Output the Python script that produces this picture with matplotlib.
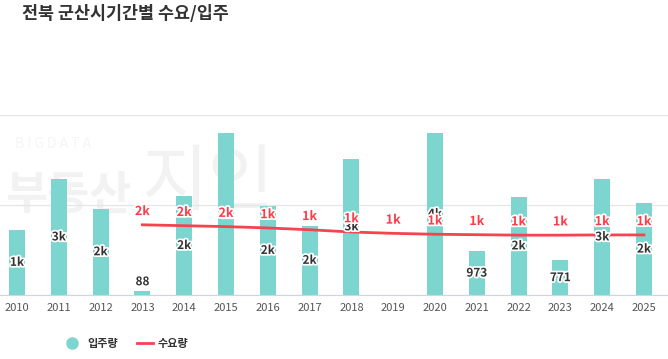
import numpy as np
import matplotlib.pyplot as plt
import matplotlib.patheffects as pe

plt.rcParams['font.family'] = ['Noto Sans CJK KR', 'DejaVu Sans']

years = ['2010', '2011', '2012', '2013', '2014', '2015', '2016', '2017',
         '2018', '2019', '2020', '2021', '2022', '2023', '2024', '2025']
supply = [1450, 2580, 1920, 88, 2200, 3600, 1980, 1540,
          3030, 0, 3600, 973, 2180, 771, 2580, 2040]
demand_years = years[3:]
demand = [1560, 1540, 1520, 1490, 1450, 1400, 1370, 1350,
          1340, 1330, 1330, 1335, 1335]


def short(v):
    if v >= 1000:
        return '%dk' % round(v / 1000.0)
    return str(v)


bar_color = '#7dd5cf'
line_color = '#f5434f'

fig = plt.figure(figsize=(6.68, 3.59), dpi=100)
ax = fig.add_axes([0, 64 / 359, 1, 180 / 359])

x = np.arange(len(years))
xd = x[3:]

# watermark, kept under the bars
ft = fig.transFigure
ax.text(0.022, 0.60, 'B I G D A T A', fontsize=10, color='#f5f5f5', ha='left', va='center',
        transform=ft, zorder=0.5, clip_on=False)
ax.text(0.008, 0.455, '부동산', fontsize=33, fontweight='bold', color='#f2f2f2', ha='left',
        va='center', transform=ft, zorder=0.5, clip_on=False)
ax.text(0.212, 0.49, '지인', fontsize=52, color='#f2f2f2', ha='left', va='center',
        transform=ft, zorder=0.5, clip_on=False)

ax.bar(x, supply, width=0.38, color=bar_color, zorder=2)
ax.plot(xd, demand, color=line_color, lw=2, zorder=3)

stroke = [pe.withStroke(linewidth=2.5, foreground='white')]
for i, v in enumerate(supply):
    if v == 0:
        continue
    if v < 300:
        ax.annotate(short(v), (x[i], v), xytext=(0, 2), textcoords='offset points',
                    ha='center', va='bottom', fontsize=8.5, fontweight='bold',
                    color='#333333', path_effects=stroke, zorder=4)
    else:
        ax.text(x[i], v / 2, short(v), ha='center', va='center', fontsize=8.5,
                fontweight='bold', color='#333333', path_effects=stroke, zorder=4)

for xi, v in zip(xd, demand):
    ax.annotate(short(v), (xi, v), xytext=(0, 9.5), textcoords='offset points',
                ha='center', va='center', fontsize=9, fontweight='bold',
                color='#ff3b4a', path_effects=stroke, zorder=5)

ax.set_xlim(-0.4067, 15.574)
ax.set_ylim(0, 4000)
ax.set_yticks([0, 2000, 4000])
ax.set_yticklabels([])
ax.grid(axis='y', color='#e6e6e6', lw=1, zorder=0)
ax.set_axisbelow(True)
ax.tick_params(axis='y', length=0)
ax.set_xticks(x)
ax.set_xticklabels(years, fontsize=8, color='#555555')
ax.tick_params(axis='x', length=0, pad=6)
for s in ['top', 'right', 'left']:
    ax.spines[s].set_visible(False)
ax.spines['bottom'].set_color('#ccd6eb')
ax.patch.set_alpha(0)

fig.text(0.033, 0.96, '전북 군산시기간별 수요/입주', fontsize=12.5, fontweight='bold',
         color='#333333', ha='left', va='center')

# legend
ly = 1 - 343 / 359
fig.lines.append(plt.Line2D([72 / 668], [ly], transform=fig.transFigure, marker='o',
                            markersize=8, color=bar_color, lw=0))
fig.text(87 / 668, ly, '입주량', fontsize=8, fontweight='bold', color='#333333',
         ha='left', va='center')
fig.lines.append(plt.Line2D([137 / 668, 153 / 668], [ly, ly],
                            transform=fig.transFigure, color=line_color, lw=2))
fig.text(158 / 668, ly, '수요량', fontsize=8, fontweight='bold', color='#333333',
         ha='left', va='center')

fig.savefig('out.png', dpi=100)
